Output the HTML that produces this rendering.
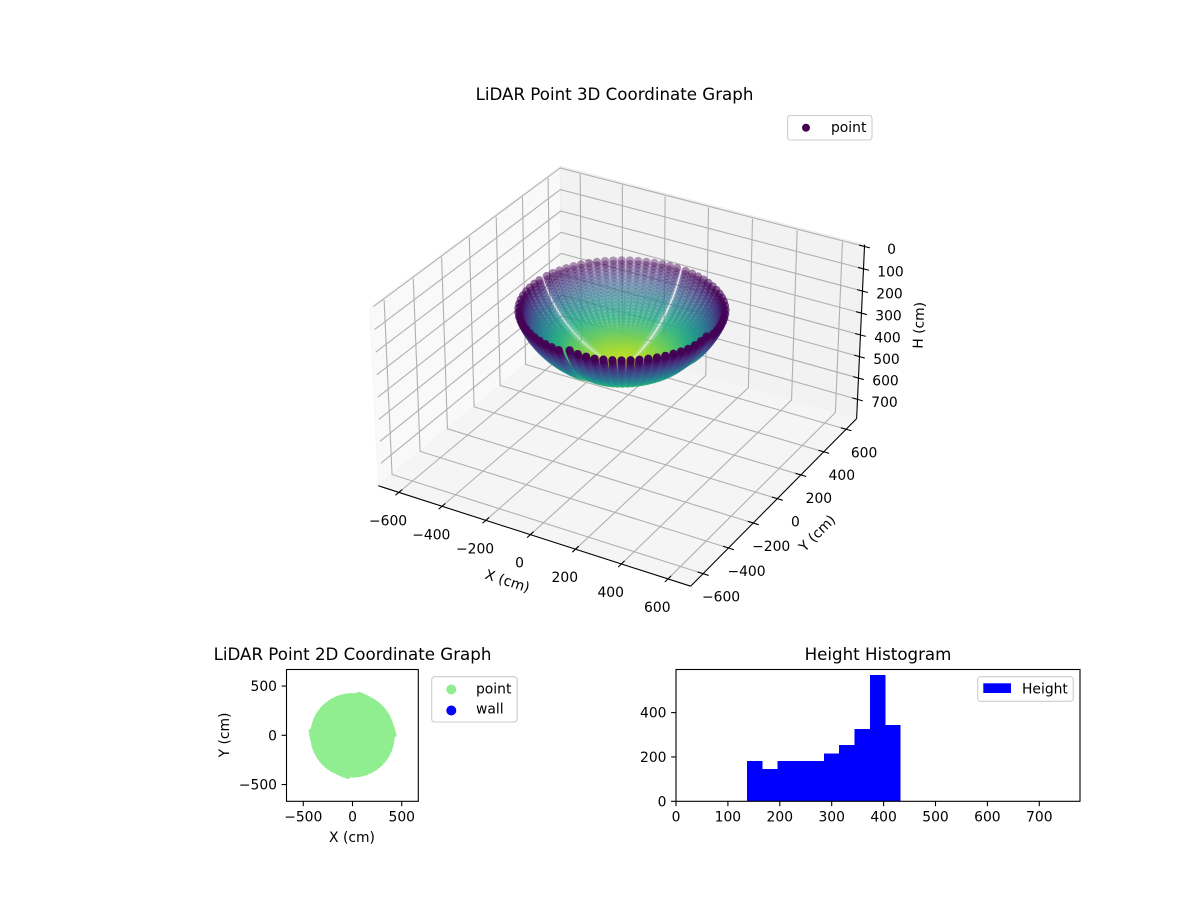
<!DOCTYPE html>
<html lang="en">
<head>
<meta charset="utf-8">
<title>LiDAR Point Graphs</title>
<style>
html,body{margin:0;padding:0;background:#fff;}
svg{display:block;}
text{font-family:"DejaVu Sans","Liberation Sans",sans-serif;fill:#000;}
</style>
</head>
<body>
<svg id="fig" xmlns="http://www.w3.org/2000/svg" width="1200" height="900" viewBox="0 0 1200 900">
  <rect x="0" y="0" width="1200" height="900" fill="#ffffff"/>
  <g id="g3d"></g>
  <g id="g2d"></g>
  <g id="ghist"></g>
</svg>
<script>
// ---- data ----
const ringZ = [403.8,403.4,402.4,401.0,399.1,396.7,393.9,390.6,386.8,382.6,377.9,372.8,367.2,361.2,354.9,348.0,340.8,333.1,325.1,316.7,307.9,298.8,289.3,279.5,269.3,258.8,248.1,237.0,225.7,214.2,202.3,190.2,177.9,165.5,152.8,140.0];
const ringRadius = [7.4,22.2,36.9,51.6,66.3,80.8,95.2,109.6,123.8,137.9,151.8,165.5,179,192.3,205.4,218.2,230.7,242.9,254.9,266.5,277.9,288.9,299.5,309.8,319.6,329.2,338.2,346.9,355.2,363.1,370.5,377.4,383.9,389.9,395.4,400.5];
const meridianDeg = [0.5,5.2,9.9,14.6,19.3,24,28.7,33.4,38.1,42.8,47.5,52.2,56.9,61.6,66.3,71,75.7,80.5,
  87.5,92.2,96.9,101.6,106.3,111,115.7,120.4,125.1,129.8,134.5,139.2,143.9,148.6,153.3,158,162.7,167.5,
  174.5,179.4,184.4,189.3,194.3,199.2,204.2,209.1,214.1,219,224,228.9,233.9,238.8,243.8,248.7,253.7,258.6,263.5,
  270.5,275.4,280.3,285.1,290,294.9,299.8,304.7,309.5,314.4,319.3,324.2,329.1,333.9,338.8,343.7,348.6,353.5];
const seamDeg = [-3,84,171,267,357];
const seamHalfGapCm = [25,21,23,25,25];
const rimBoostDeg = [0.5,5.2,9.9,71,75.7,80.5,174.5,179.4,184.4,253.7,258.6,263.5];
const rimBoostCm = [16,10,5,5,10,16,16,10,5,5,10,16];
const rimLiftDeg = [270.5,275.4,280.3,343.7,348.6,353.5];
const rimLiftCm = [14,7,3,3,7,12];
const x3Ticks = [-600,-400,-200,0,200,400,600];
const y3Ticks = [-600,-400,-200,0,200,400,600];
const z3Ticks = [0,100,200,300,400,500,600,700];
const x2Ticks = [-500,0,500];
const y2Ticks = [-500,0,500];
const histEdges = [136.8,166.4,196,225.6,255.2,284.8,314.4,344,373.6,403.2,432.8];
const histCounts = [182,146,182,182,182,216,254,326,570,344];
const histXTicks = [0,100,200,300,400,500,600,700];
const histYTicks = [0,200,400];

// ---- helpers ----
const SVGNS = 'http://www.w3.org/2000/svg';
function mk(tag, attrs, parent){
  const el = document.createElementNS(SVGNS, tag);
  for (const k in attrs) el.setAttribute(k, attrs[k]);
  parent.appendChild(el);
  return el;
}
function fmt(v){ return v < 0 ? '\u2212' + (-v) : String(v); }
const viridisStops = [[68,1,84],[71,44,122],[59,81,139],[44,113,142],[33,144,141],[39,173,129],[92,200,99],[170,220,50],[253,231,37]];
function viridis(t){
  t = Math.max(0, Math.min(1, t));
  const p = t * (viridisStops.length - 1), i = Math.min(viridisStops.length - 2, Math.floor(p)), f = p - i;
  const a = viridisStops[i], b = viridisStops[i + 1];
  return 'rgb(' + [0,1,2].map(k => Math.round(a[k] + (b[k] - a[k]) * f)).join(',') + ')';
}

// ---- point positions: meridian x ring, with a constant-width seam between sectors ----
const maxRadius = Math.max.apply(null, ringRadius);
function lookup(keys, vals, k){ const i = keys.indexOf(k); return i < 0 ? 0 : vals[i]; }
function pointAt(deg, i, useBoost){
  let s = 0;
  while (s < seamDeg.length - 2 && deg > seamDeg[s + 1]) s++;
  const lo = seamDeg[s], hi = seamDeg[s + 1];
  const cols = meridianDeg.filter(d => d > lo && d < hi);
  const first = cols[0], last = cols[cols.length - 1];
  const u = (deg - first) / (last - first);
  const toDeg = 180 / Math.PI / ringRadius[i];
  const gLo = Math.min(seamHalfGapCm[s] * toDeg, (hi - lo) * 0.45);
  const gHi = Math.min(seamHalfGapCm[s + 1] * toDeg, (hi - lo) * 0.45);
  const th = (lo + gLo + u * (hi - lo - gLo - gHi)) * Math.PI / 180;
  const f = Math.pow(ringRadius[i] / maxRadius, 2);
  const r = ringRadius[i] + (useBoost ? lookup(rimBoostDeg, rimBoostCm, deg) * f : 0);
  return {x: r * Math.cos(th), y: r * Math.sin(th), z: ringZ[i] - lookup(rimLiftDeg, rimLiftCm, deg) * f};
}

// ---- 3D projection (a,b,c in -1..1 over the pane box) ----
const xTo3 = v => v / 696;
const yTo3 = v => v / 696;
const zTo3 = v => 1 - 2 * (v + 8) / 799;
function depth(a,b,c){ return 1 - 0.0258*a + 0.0446*b - 0.017*c; }
function proj(a,b,c){
  const w = depth(a,b,c);
  const X = 0.515*a + 0.2976*b;
  const Y = -0.1488*a + 0.2577*b + 0.295*c;
  return [621.9 + 299.2*X/w, 365 - 298.5*Y/w];
}
function ptsStr(list){ return list.map(p => { const q = proj(p[0],p[1],p[2]); return q[0].toFixed(2)+','+q[1].toFixed(2); }).join(' '); }

// ---- 3D chart ----
const g3 = document.getElementById('g3d');
const paneLeft = mk('polygon',{points:ptsStr([[-1,-1,-1],[-1,1,-1],[-1,1,1],[-1,-1,1]]),fill:'#f9f9f9',stroke:'#f6f6f6','stroke-width':1},g3);


const paneRight = mk('polygon',{points:ptsStr([[-1,1,-1],[1,1,-1],[1,1,1],[-1,1,1]]),fill:'#f2f2f2',stroke:'#eeeeee','stroke-width':1},g3);


const paneFloor = mk('polygon',{points:ptsStr([[-1,-1,-1],[1,-1,-1],[1,1,-1],[-1,1,-1]]),fill:'#f5f5f5',stroke:'#f2f2f2','stroke-width':1},g3);



const gridTop = 0.965;
x3Ticks.forEach(v => {
  const a = xTo3(v);
  const line = mk('polyline',{points:ptsStr([[a,-1,-1],[a,1,-1],[a,1,gridTop]]),fill:'none',stroke:'#b0b0b0','stroke-width':1.1},g3);
  
  
});
y3Ticks.forEach(v => {
  const b = yTo3(v);
  const line = mk('polyline',{points:ptsStr([[1,b,-1],[-1,b,-1],[-1,b,gridTop]]),fill:'none',stroke:'#b0b0b0','stroke-width':1.1},g3);
  
  
});
z3Ticks.forEach(v => {
  const c = zTo3(v);
  const line = mk('polyline',{points:ptsStr([[-1,-0.965,c],[-1,1,c],[1,1,c]]),fill:'none',stroke:'#b0b0b0','stroke-width':1.1},g3);
  
  
});

const axisX = mk('polyline',{points:ptsStr([[-1,-1,-1],[1,-1,-1]]),fill:'none',stroke:'#000','stroke-width':1.1},g3);


const axisY = mk('polyline',{points:ptsStr([[1,-1,-1],[1,1,-1]]),fill:'none',stroke:'#000','stroke-width':1.1},g3);


const axisZ = mk('polyline',{points:ptsStr([[1,1,-1],[1,1,1]]),fill:'none',stroke:'#000','stroke-width':1.1},g3);



const tickD = 0.034;
x3Ticks.forEach(v => {
  const a = xTo3(v), p = proj(a,-1,-1);
  const t = mk('polyline',{points:ptsStr([[a,-1-tickD,-1],[a,-1+tickD,-1]]),fill:'none',stroke:'#000','stroke-width':1.1},g3);
  
  
  const l = mk('text',{x:(p[0]-10.7).toFixed(1),y:(p[1]+33).toFixed(1),'font-size':13.89,'text-anchor':'middle'},g3);
  
  
  l.textContent = fmt(v);
});
y3Ticks.forEach(v => {
  const b = yTo3(v), p = proj(1,b,-1);
  const t = mk('polyline',{points:ptsStr([[1-tickD,b,-1],[1+tickD,b,-1]]),fill:'none',stroke:'#000','stroke-width':1.1},g3);
  
  
  const l = mk('text',{x:(p[0]+18).toFixed(1),y:(p[1]+28).toFixed(1),'font-size':13.89,'text-anchor':'middle'},g3);
  
  
  l.textContent = fmt(v);
});
z3Ticks.forEach(v => {
  const c = zTo3(v), p = proj(1,1,c);
  const t = mk('polyline',{points:ptsStr([[1-tickD,1,c],[1+tickD,1,c]]),fill:'none',stroke:'#000','stroke-width':1.1},g3);
  
  
  const l = mk('text',{x:(p[0]+27).toFixed(1),y:(p[1]+7.5).toFixed(1),'font-size':13.89,'text-anchor':'middle'},g3);
  
  
  l.textContent = String(v);
});

const t3 = mk('text',{x:614.5,y:100,'font-size':16.67,'text-anchor':'middle'},g3);


t3.textContent = 'LiDAR Point 3D Coordinate Graph';
const xl3 = mk('text',{x:0,y:0,'font-size':13.89,'text-anchor':'middle',transform:'translate(506,585.5) rotate(18)'},g3);


xl3.textContent = 'X (cm)';
const yl3 = mk('text',{x:0,y:0,'font-size':13.89,'text-anchor':'middle',transform:'translate(820.5,536.5) rotate(-45)'},g3);


yl3.textContent = 'Y (cm)';
const zl3 = mk('text',{x:0,y:0,'font-size':13.89,'text-anchor':'middle',transform:'translate(923.5,325.5) rotate(-88)'},g3);


zl3.textContent = 'H (cm)';

// scatter
const zMin = Math.min.apply(null, ringZ), zMax = Math.max.apply(null, ringZ);
const cloud = [];
meridianDeg.forEach(deg => {
  ringZ.forEach((z, i) => {
    const p = pointAt(deg, i, false);
    p.ringZ = z;
    p.d = depth(xTo3(p.x), yTo3(p.y), zTo3(p.z));
    cloud.push(p);
  });
});
const dMin = Math.min.apply(null, cloud.map(p => p.d)), dMax = Math.max.apply(null, cloud.map(p => p.d));
cloud.sort((p, q) => q.d - p.d);
const cloudG = mk('g',{},g3);


cloud.forEach(p => {
  const s = proj(xTo3(p.x), yTo3(p.y), zTo3(p.z));
  const alpha = 1 - 0.62 * (p.d - dMin) / (dMax - dMin);
  const c = mk('circle',{cx:s[0].toFixed(2),cy:s[1].toFixed(2),r:4.15,fill:viridis((p.ringZ - zMin)/((zMax - zMin)*1.1)),'fill-opacity':alpha.toFixed(3)},cloudG);
  
  
});

// legend 3D
const lg3 = mk('g',{},g3);


const lg3b = mk('rect',{x:787.5,y:115.5,width:84.5,height:24.5,rx:3,ry:3,fill:'#fff','fill-opacity':0.8,stroke:'#cccccc','stroke-width':1.1},lg3);


const lg3m = mk('circle',{cx:806,cy:127.7,r:4,fill:'#440154'},lg3);


const lg3t = mk('text',{x:831,y:132,'font-size':13.89},lg3);


lg3t.textContent = 'point';

// ---- 2D chart ----
const g2 = document.getElementById('g2d');
const x2 = v => 352.5 + v * 0.0985;
const y2 = v => 735.3 - v * 0.0985;
const disc = mk('g',{},g2);


meridianDeg.forEach(deg => {
  ringRadius.forEach((r, i) => {
    const p = pointAt(deg, i, true);
    const c = mk('circle',{cx:x2(p.x).toFixed(2),cy:y2(p.y).toFixed(2),r:3,fill:'#90ee90'},disc);
    
    
  });
});
const frame2 = mk('rect',{x:286.5,y:669.5,width:131.8,height:131.8,fill:'none',stroke:'#000','stroke-width':1.1},g2);


x2Ticks.forEach(v => {
  const t = mk('line',{x1:x2(v),x2:x2(v),y1:801.3,y2:806.2,stroke:'#000','stroke-width':1.1},g2);
  
  
  const l = mk('text',{x:x2(v),y:821.5,'font-size':13.89,'text-anchor':'middle'},g2);
  
  
  l.textContent = fmt(v);
});
y2Ticks.forEach(v => {
  const t = mk('line',{x1:281.6,x2:286.5,y1:y2(v),y2:y2(v),stroke:'#000','stroke-width':1.1},g2);
  
  
  const l = mk('text',{x:277,y:y2(v)+5,'font-size':13.89,'text-anchor':'end'},g2);
  
  
  l.textContent = fmt(v);
});
const t2 = mk('text',{x:352.5,y:660,'font-size':16.67,'text-anchor':'middle'},g2);


t2.textContent = 'LiDAR Point 2D Coordinate Graph';
const xl2 = mk('text',{x:352,y:842,'font-size':13.89,'text-anchor':'middle'},g2);


xl2.textContent = 'X (cm)';
const yl2 = mk('text',{x:0,y:0,'font-size':13.89,'text-anchor':'middle',transform:'translate(229,735) rotate(-90)'},g2);


yl2.textContent = 'Y (cm)';

const lg2 = mk('g',{},g2);


const lg2b = mk('rect',{x:431.7,y:676.7,width:85.5,height:45.3,rx:3,ry:3,fill:'#fff',stroke:'#cccccc','stroke-width':1.1},lg2);


const lg2m1 = mk('circle',{cx:451.3,cy:689.5,r:5,fill:'#90ee90'},lg2);


const lg2t1 = mk('text',{x:476,y:693.3,'font-size':13.89},lg2);


lg2t1.textContent = 'point';
const lg2m2 = mk('circle',{cx:451.3,cy:710.5,r:5,fill:'#0000ff'},lg2);


const lg2t2 = mk('text',{x:476,y:713.3,'font-size':13.89},lg2);


lg2t2.textContent = 'wall';

// ---- Histogram ----
const gh = document.getElementById('ghist');
const xh = v => 676 + v * 0.519;
const yh = v => 801.3 - v * 0.2217;
histCounts.forEach((n, i) => {
  const r = mk('rect',{x:xh(histEdges[i]).toFixed(2),y:yh(n).toFixed(2),width:(xh(histEdges[i+1]) - xh(histEdges[i])).toFixed(2),height:(yh(0) - yh(n)).toFixed(2),fill:'#0000ff','shape-rendering':'crispEdges'},gh);
  
  
});
const frameH = mk('rect',{x:676,y:669.5,width:404,height:131.8,fill:'none',stroke:'#000','stroke-width':1.1},gh);


histXTicks.forEach(v => {
  const t = mk('line',{x1:xh(v),x2:xh(v),y1:801.3,y2:806.2,stroke:'#000','stroke-width':1.1},gh);
  
  
  const l = mk('text',{x:xh(v),y:821.5,'font-size':13.89,'text-anchor':'middle'},gh);
  
  
  l.textContent = String(v);
});
histYTicks.forEach(v => {
  const t = mk('line',{x1:671.1,x2:676,y1:yh(v),y2:yh(v),stroke:'#000','stroke-width':1.1},gh);
  
  
  const l = mk('text',{x:666.5,y:yh(v)+5,'font-size':13.89,'text-anchor':'end'},gh);
  
  
  l.textContent = String(v);
});
const th = mk('text',{x:878,y:660,'font-size':16.67,'text-anchor':'middle'},gh);


th.textContent = 'Height Histogram';
const lgh = mk('g',{},gh);


const lghb = mk('rect',{x:977.7,y:676.7,width:95.6,height:24.6,rx:3,ry:3,fill:'#fff','fill-opacity':0.8,stroke:'#cccccc','stroke-width':1.1},lgh);


const lghp = mk('rect',{x:983.3,y:683.3,width:27.7,height:9.7,fill:'#0000ff'},lgh);


const lght = mk('text',{x:1022,y:693.3,'font-size':13.89},lgh);


lght.textContent = 'Height';
</script>
</body>
</html>
